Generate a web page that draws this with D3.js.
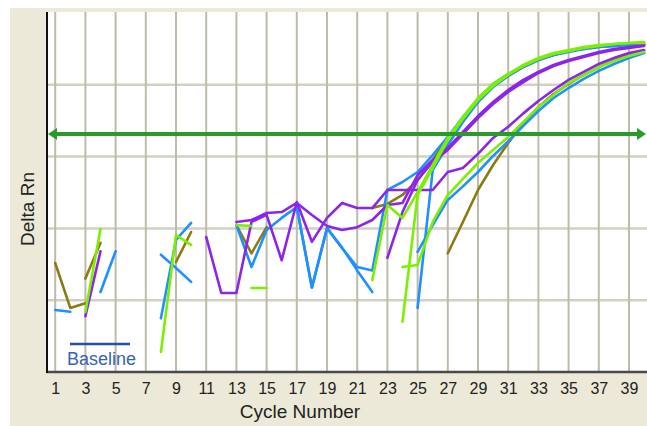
<!DOCTYPE html>
<html><head><meta charset="utf-8">
<script src="https://cdn.jsdelivr.net/npm/d3@7"></script>
<style>html,body{margin:0;padding:0;background:#fff;}svg{display:block;}</style>
</head><body>
<svg id="chart" width="647" height="426"></svg>
<script>
// ---- data (Delta Rn per cycle 1..40; null = not plottable on log axis) ----
const cycles = d3.range(1, 41);
const tickCycles = d3.range(1, 40, 2);
const yGridValues = [0.001, 0.01, 0.1, 1];
const threshold = 0.2065;

const olive1 = [0.0033,0.00078,0.00091,null,null,null,null,null,0.0034,0.0089,null,null,0.0111,0.0045,0.0104,null,null,null,null,null,null,0.0192,0.0219,0.0292,0.0472,0.0897,0.182,0.345,0.614,0.962,1.33,1.77,2.21,2.60,2.95,3.26,3.47,3.58,3.70,3.82];
const olive2 = [null,null,0.0020,0.0063,null,null,null,null,null,null,null,null,null,null,null,null,null,null,null,null,null,null,null,null,null,null,0.0045,0.0123,0.0343,0.0764,0.155,0.292,0.491,0.745,1.03,1.37,1.77,2.21,2.60,2.95];
const blue1 = [0.00073,0.00069,null,null,null,null,null,0.00056,0.0069,0.0119,null,null,0.0111,0.0029,0.0095,0.0140,0.0199,0.0015,0.0101,0.0053,0.0029,0.0026,0.0343,0.0443,0.0610,0.105,0.188,0.356,0.636,1.03,1.41,1.83,2.29,2.60,2.95,3.15,3.36,3.47,3.58,3.58];
const blue2 = [null,null,null,0.0013,0.0048,null,null,0.0043,0.0028,0.0018,null,null,null,null,null,null,0.0199,0.0015,0.0101,0.0054,0.0026,0.0013,null,null,0.0047,0.0111,0.0249,0.0385,0.0610,0.102,0.163,0.268,0.432,0.655,0.902,1.21,1.56,1.95,2.36,2.77];
const blue3 = [null,null,null,null,null,null,null,null,null,null,null,null,null,null,null,null,null,null,null,null,null,null,null,null,0.00078,0.0650,0.145,0.303,0.576,0.93,1.33,1.77,2.21,2.60,2.86,3.15,3.36,3.47,3.58,3.70];
const purple1 = [null,null,0.00060,0.0048,null,null,null,null,null,null,null,null,0.0123,0.0131,0.0164,0.0169,0.0226,0.0154,0.0108,0.0095,0.0104,0.0131,0.0212,0.0226,0.0554,0.0897,0.132,0.220,0.367,0.576,0.847,1.17,1.51,1.89,2.21,2.52,2.86,3.15,3.36,3.58];
const purple2 = [null,null,null,null,null,null,null,null,null,null,0.0076,0.00126,0.00126,0.0123,0.0154,0.0036,0.0233,0.0065,0.0140,0.0226,0.0192,0.0192,0.0343,0.0343,0.0343,0.0343,0.0610,0.0693,0.109,0.182,0.26,0.40,0.595,0.847,1.17,1.51,1.95,2.36,2.77,3.05];
const purple3 = [null,null,null,null,null,null,null,null,null,null,null,null,null,null,null,null,null,null,null,null,null,null,0.0039,0.0169,0.0472,0.0841,0.124,0.2065,0.345,0.540,0.794,1.09,1.46,1.83,2.14,2.44,2.77,3.05,3.26,3.47];
const green1 = [null,null,0.00069,0.0098,null,null,null,0.00019,0.0081,0.0059,null,null,0.0111,0.0108,null,null,null,null,null,null,null,0.0019,0.0212,0.0140,0.0321,0.0764,0.182,0.356,0.655,1.03,1.41,1.89,2.36,2.77,3.05,3.36,3.58,3.70,3.82,3.95];
const green2 = [null,null,null,null,null,null,null,null,null,null,null,null,null,null,null,null,null,null,null,null,null,null,null,0.0029,0.0031,0.0123,0.0292,0.0488,0.0814,0.124,0.188,0.303,0.491,0.721,1.06,1.37,1.77,2.14,2.52,2.86];
const green3 = [null,null,null,null,null,null,null,null,null,null,null,null,null,0.00148,0.00148,null,null,null,null,null,null,null,null,0.00050,0.0292,0.0693,0.170,0.335,0.614,0.962,1.37,1.83,2.29,2.69,2.95,3.26,3.47,3.70,3.82,3.82];

const OLIVE = "#8b7b12", BLUE = "#1e90ff", PURPLE = "#8c25e8", GREEN = "#7cf000";
const series = [
  {v: olive1, c: OLIVE}, {v: olive2, c: OLIVE},
  {v: blue1, c: BLUE}, {v: blue2, c: BLUE}, {v: blue3, c: BLUE},
  {v: purple1, c: PURPLE}, {v: purple2, c: PURPLE}, {v: purple3, c: PURPLE},
  {v: green2, c: GREEN}, {v: green3, c: GREEN}, {v: green1, c: GREEN}
];

// ---- layout ----
const svg = d3.select("#chart");
const L = 47, R = 647, T = 12, B = 372;
const x = d3.scaleLinear().domain([1, 39]).range([55.2, 629]);
const y = d3.scaleLog().domain([1e-4, 10]).range([B, 13]);

svg.append("rect").attr("x", 10).attr("y", 8).attr("width", 637).attr("height", 418).attr("fill", "#ece9d8");
svg.append("rect").attr("x", L).attr("y", T).attr("width", R - L).attr("height", B - T).attr("fill", "#ffffff");

const defs = svg.append("defs");
defs.append("clipPath").attr("id", "clip").append("rect")
  .attr("x", L).attr("y", T).attr("width", R - L).attr("height", B - T);

// gridlines
svg.append("g").selectAll("line").data(yGridValues).join("line")
  .attr("x1", L).attr("x2", R).attr("y1", d => y(d)).attr("y2", d => y(d))
  .attr("stroke", "#d2d0c4").attr("stroke-width", 2.5);
svg.append("g").selectAll("line").data(tickCycles).join("line")
  .attr("x1", d => x(d)).attr("x2", d => x(d)).attr("y1", T).attr("y2", B)
  .attr("stroke", "#bdbbaa").attr("stroke-width", 2);

// series
const line = d3.line().defined(d => d[1] != null).x(d => x(d[0])).y(d => y(d[1]));
const g = svg.append("g").attr("clip-path", "url(#clip)");
series.forEach(s => {
  g.append("path").datum(cycles.map((c, i) => [c, s.v[i]]))
    .attr("d", line).attr("fill", "none").attr("stroke", s.c)
    .attr("stroke-width", 2.6).attr("stroke-linejoin", "round").attr("stroke-linecap", "round");
});

// threshold with arrows
const ty = y(threshold);
const TC = "#2a9a2a";
svg.append("line").attr("x1", L + 4).attr("x2", R - 4).attr("y1", ty).attr("y2", ty)
  .attr("stroke", TC).attr("stroke-width", 4);
svg.append("path").attr("d", `M${L+1},${ty} L${L+10},${ty-6} L${L+10},${ty+6} Z`).attr("fill", TC);
svg.append("path").attr("d", `M${R-1},${ty} L${R-10},${ty-6} L${R-10},${ty+6} Z`).attr("fill", TC);

// axes
const xAxis = d3.axisBottom(x).tickValues(tickCycles).tickSize(0).tickPadding(11);
const ax = svg.append("g").attr("transform", `translate(0,${B})`).call(xAxis);
ax.select(".domain").remove();
ax.selectAll("text").attr("font-family", "Liberation Sans, Arial, sans-serif").attr("font-size", 16).attr("fill", "#222");
svg.append("line").attr("x1", L).attr("x2", R).attr("y1", B).attr("y2", B).attr("stroke", "#4a4a4a").attr("stroke-width", 2.5);
svg.append("line").attr("x1", L).attr("x2", L).attr("y1", T).attr("y2", B + 1).attr("stroke", "#111").attr("stroke-width", 2);

svg.append("text").attr("x", 300).attr("y", 418).attr("text-anchor", "middle")
  .attr("font-family", "Liberation Sans, Arial, sans-serif").attr("font-size", 19).attr("fill", "#222")
  .text("Cycle Number");
svg.append("text").attr("transform", "translate(34,209) rotate(-90)").attr("text-anchor", "middle")
  .attr("font-family", "Liberation Sans, Arial, sans-serif").attr("font-size", 19).attr("fill", "#222")
  .text("Delta Rn");

// baseline marker
svg.append("line").attr("x1", 70).attr("x2", 130).attr("y1", 344).attr("y2", 344).attr("stroke", "#2850a0").attr("stroke-width", 2.5);
svg.append("text").attr("x", 67).attr("y", 365)
  .attr("font-family", "Liberation Sans, Arial, sans-serif").attr("font-size", 18).attr("fill", "#3763b5")
  .text("Baseline");
</script>
</body></html>
